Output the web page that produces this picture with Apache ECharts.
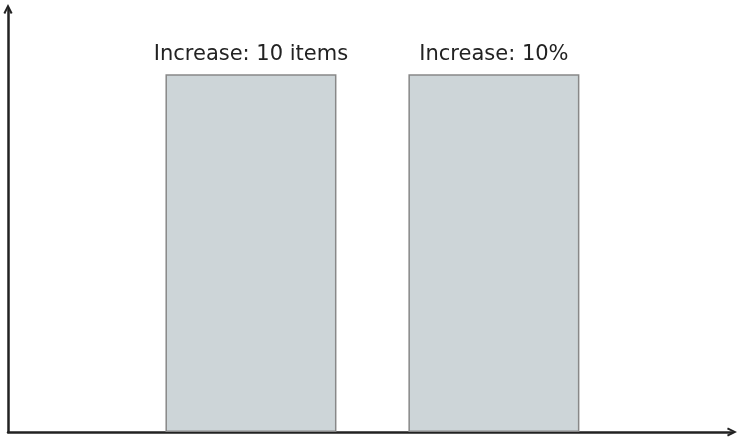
<!DOCTYPE html>
<html>
<head>
<meta charset="utf-8">
<script src="https://cdn.jsdelivr.net/npm/echarts@6/dist/echarts.min.js"></script>
<style>html,body{margin:0;padding:0;background:#fff}#c{width:740px;height:440px}</style>
</head>
<body>
<div id="c"></div>
<script>
var positions = [1, 2];
var values = [10, 10];
var labels = ['Increase: 10 items', 'Increase: 10%'];

var chart = echarts.init(document.getElementById('c'), null, {renderer: 'canvas'});
var chevron = 'path://M0,10 L5,0 L10,10 L8,11 L5,4.6 L2,11 Z';
var axisLine = {show: true, symbol: ['none', chevron], symbolSize: [10, 10], lineStyle: {color: '#222', width: 2.5}};
chart.setOption({
  animation: false,
  grid: {left: 8, right: 8, top: 9, bottom: 8},
  xAxis: {type: 'value', min: 0, max: 2.98, axisLine: axisLine, axisTick: {show: false}, axisLabel: {show: false}, splitLine: {show: false}},
  yAxis: {type: 'value', min: 0, max: 11.82, axisLine: axisLine, axisTick: {show: false}, axisLabel: {show: false}, splitLine: {show: false}},
  series: [{
    type: 'bar',
    barWidth: 171,
    data: positions.map(function (p, i) { return [p, values[i]]; }),
    itemStyle: {color: '#cdd5d8', borderColor: '#888', borderWidth: 1.5},
    label: {
      show: true, position: 'top', distance: 9,
      fontFamily: 'DejaVu Sans', fontSize: 21, color: '#222',
      formatter: function (p) { return labels[p.dataIndex]; }
    }
  }]
});
</script>
</body>
</html>
